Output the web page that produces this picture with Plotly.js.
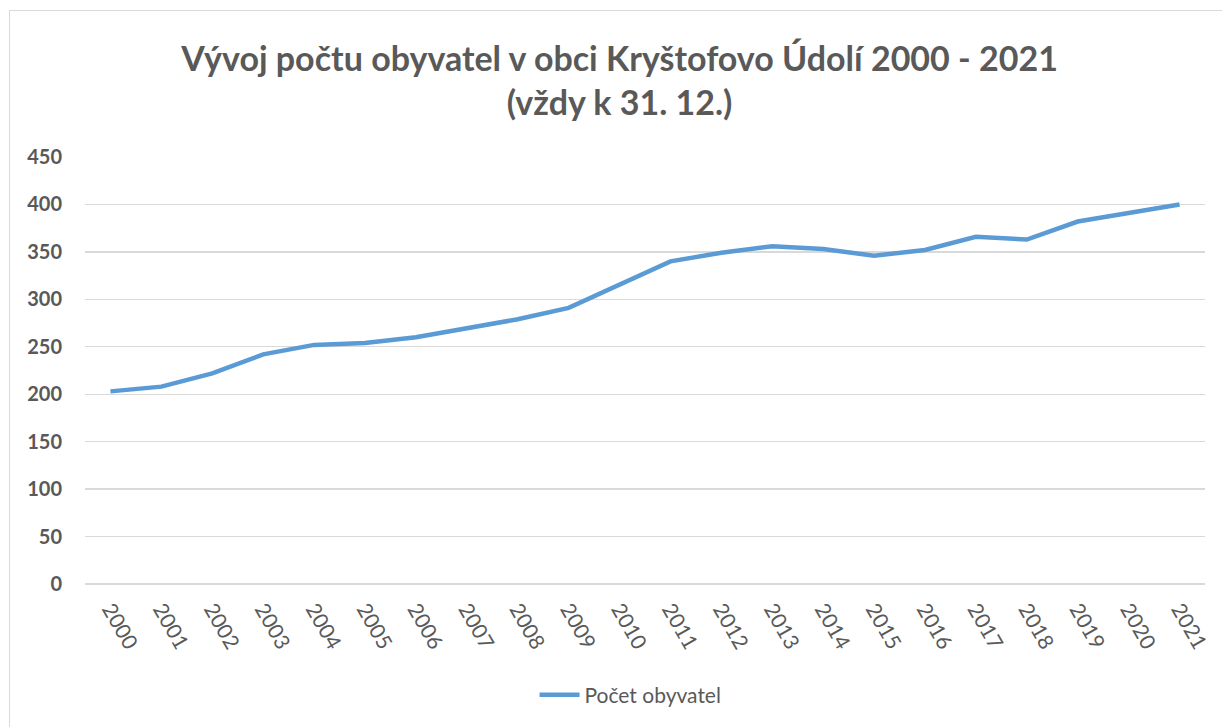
<!DOCTYPE html>
<html>
<head>
<meta charset="utf-8">
<script src="https://cdn.plot.ly/plotly-3.0.1.min.js"></script>
<style>
html,body{margin:0;padding:0;background:#fff;overflow:hidden;}
#frame{position:absolute;left:9px;top:10px;width:1300px;height:800px;border:1px solid #d9d9d9;box-sizing:border-box;}
#chart{position:absolute;left:0;top:0;width:1222px;height:727px;}
</style>
</head>
<body>
<div id="frame"></div>
<div id="chart"></div>
<script>
const years = ["2000","2001","2002","2003","2004","2005","2006","2007","2008","2009","2010","2011","2012","2013","2014","2015","2016","2017","2018","2019","2020","2021"];
const population = [203,208,222,242,252,254,260,269,279,291,315,340,349,356,353,346,352,366,363,382,391,400];
const seriesName = "Počet obyvatel";
const chartTitle = "Vývoj počtu obyvatel v obci Kryštofovo Údolí 2000 - 2021<br>(vždy k 31. 12.)";
const yTicks = [0,50,100,150,200,250,300,350,400,450];

const font = "Lato, 'Open Sans', sans-serif";
const trace = {
  x: years, y: population, type: 'scatter', mode: 'lines', name: seriesName,
  line: {color: '#5b9bd5', width: 4.5}
};
const layout = {
  width: 1222, height: 727,
  paper_bgcolor: 'rgba(0,0,0,0)', plot_bgcolor: 'rgba(0,0,0,0)',
  margin: {l: 85, r: 17, t: 157, b: 143},
  title: {text: chartTitle, font: {family: font, size: 34, color: '#595959', weight: 'bold'},
          x: 0.507, xanchor: 'center', xref: 'container', yref: 'container', y: 0.902, yanchor: 'top'},
  xaxis: {type: 'category', range: [-0.5, 21.5], tickangle: 60, showgrid: false,
          showline: false, ticks: '', zeroline: false, ticklabelstandoff: 8,
          tickfont: {family: font, size: 21, color: '#595959'}},
  yaxis: {range: [0, 450], tickvals: yTicks, showgrid: true, gridcolor: '#d9d9d9', gridwidth: 1.3,
          zeroline: true, zerolinecolor: '#d9d9d9', zerolinewidth: 1.3, showline: false, ticks: '',
          ticklabelstandoff: 22,
          tickfont: {family: font, size: 20, color: '#595959', weight: 'bold'}},
  showlegend: true,
  legend: {orientation: 'h', x: 0.516, xanchor: 'center', xref: 'container', y: 0.044, yanchor: 'middle', yref: 'container',
           font: {family: font, size: 21, color: '#595959'}, itemwidth: 40}
};
Plotly.newPlot('chart', [trace], layout, {displayModeBar: false, staticPlot: true});
</script>
</body>
</html>
